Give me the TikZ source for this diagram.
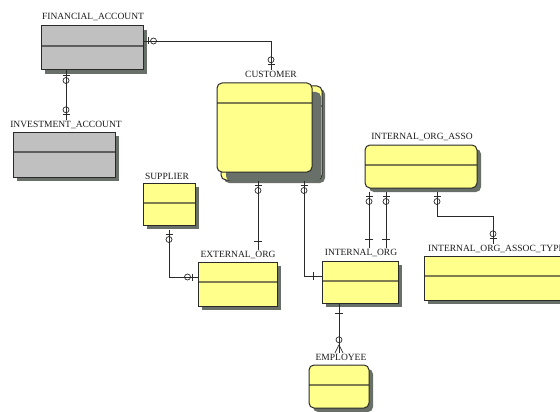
\documentclass[tikz,border=0pt]{standalone}
\usepackage{fontspec}
\setmainfont{Liberation Serif}
\usetikzlibrary{shadows, calc, decorations.markings}
\definecolor{entyel}{HTML}{FFFF8C}
\definecolor{entgry}{HTML}{C0C0C0}
\definecolor{shdgry}{HTML}{687069}
\definecolor{lnblk}{HTML}{2A2A2A}
\definecolor{divyel}{HTML}{7E7E50}
\definecolor{divgry}{HTML}{5E5E5E}

\begin{document}
\begin{tikzpicture}[x=1pt, y=-1pt,
  shd/.style={drop shadow={shadow xshift=#1, shadow yshift=-#1, fill=shdgry, opacity=1}},
  ent/.style={rectangle, draw=lnblk, line width=1pt, fill=entyel, inner sep=0pt, shd=#1,
    path picture={\draw[divyel, line width=1.1pt]
      ([yshift=-20pt]path picture bounding box.north west) --
      ([yshift=-20pt]path picture bounding box.north east);}},
  ent/.default=4pt,
  entr/.style={ent=#1, rounded corners=5pt},
  entr/.default=4pt,
  entg/.style={ent, fill=entgry,
    path picture={\draw[divgry, line width=1.1pt]
      ([yshift=-20pt]path picture bounding box.north west) --
      ([yshift=-20pt]path picture bounding box.north east);}},
  lab/.style={font=\fontsize{9.5}{10}\selectfont, text=black!90, inner sep=1pt,
    text height=6.5pt, text depth=1.5pt},
  rel/.style={draw=lnblk, line width=0.8pt},
  sym/.style={draw=lnblk, line width=0.7pt},
  % zero or one at the start / end
  zos/.style={postaction={decorate, decoration={markings,
    mark=at position 5pt with {\draw[sym] (0,-3.5pt) -- (0,3.5pt);},
    mark=at position 10pt with {\draw[sym] (0,0) circle (3pt);}}}},
  zoe/.style={postaction={decorate, decoration={markings,
    mark=at position -10pt with {\draw[sym] (0,0) circle (3pt);},
    mark=at position -5pt with {\draw[sym] (0,-3.5pt) -- (0,3.5pt);}}}},
  % exactly one
  ones/.style={postaction={decorate, decoration={markings,
    mark=at position 10pt with {\draw[sym] (0,-4pt) -- (0,4pt);}}}},
  onee/.style={postaction={decorate, decoration={markings,
    mark=at position -8pt with {\draw[sym] (0,-4pt) -- (0,4pt);}}}},
  % zero or many
  zme/.style={postaction={decorate, decoration={markings,
    mark=at position -13pt with {\draw[sym] (0,0) circle (3pt);},
    mark=at position -8pt with {\draw[sym] (0,0) -- (8pt,4pt) (0,0) -- (8pt,-4pt);}}}},
]
\clip (0,0) rectangle (560,412);

% Entities
\node[entg, minimum width=102, minimum height=44] (fa) at (92,48) {};
\node[lab] (fal) at (93,17) {FINANCIAL\_ACCOUNT};
\node[entg, minimum width=102, minimum height=45] (ia) at (64,154.5) {};
\node[lab] (ial) at (66,125) {INVESTMENT\_ACCOUNT};

\node[entr=3pt, minimum width=101, minimum height=94] (custb) at (271.5,133) {};
\node[entr=9pt, minimum width=95, minimum height=89] (cust) at (264.5,127.5) {};
\node[lab] (custl) at (271,75) {CUSTOMER};

\node[ent, minimum width=52, minimum height=42] (sup) at (169,204) {};
\node[lab] (supl) at (167,177) {SUPPLIER};
\node[ent, minimum width=79, minimum height=44] (ext) at (237.5,284) {};
\node[lab] (extl) at (238,255) {EXTERNAL\_ORG};

\node[entr, minimum width=112, minimum height=43] (asso) at (421,166.5) {};
\node[lab] (assol) at (422,137) {INTERNAL\_ORG\_ASSO};
\node[ent, minimum width=76, minimum height=42] (int) at (360,282) {};
\node[lab] (intl) at (361,253) {INTERNAL\_ORG};
\node[ent, minimum width=160, minimum height=44] (typ) at (504,278) {};
\node[lab, anchor=west] (typl) at (427,249) {INTERNAL\_ORG\_ASSOC\_TYPE};

\node[entr, minimum width=60, minimum height=43] (emp) at (339,386.5) {};
\node[lab] (empl) at (341,358) {EMPLOYEE};

% Connector points
\coordinate (cx1) at ($(custb.south)+(-13.5,0)$);
\coordinate (cx2) at ($(custb.south)+(32.5,0)$);
\coordinate (ax1) at ($(asso.south)+(-52,3)$);
\coordinate (ax2) at ($(asso.south)+(-35,3)$);
\coordinate (ax3) at ($(asso.south)+(16,3)$);
\coordinate (tx) at ($(typl.north west)+(66,0)$);
\coordinate (ix) at ($(int.south)+(-21,0)$);

% Relationships
\draw[rel, zos, zoe] (fa.south -| ial.north) -- (ial.north);
\draw[rel, zos, zoe] ([yshift=7pt]fa.east) -| (custl.north);
\draw[rel, zos, onee] (cx1) -- (cx1 |- extl.north);
\draw[rel, zos, onee] (cx2) |- ([yshift=6pt]int.west);
\draw[rel, zos, zoe] ([yshift=-4pt]sup.south) |- ([yshift=7pt]ext.west);
\draw[rel, zos, onee] (ax1) -- (ax1 |- intl.north);
\draw[rel, zos, onee] (ax2) -- (ax2 |- intl.north);
\draw[rel, zos, zoe] (ax3) -- ++(0,25) -| (tx);
\draw[rel, ones, zme] (ix) -- (ix |- empl.north);
\end{tikzpicture}
\end{document}
